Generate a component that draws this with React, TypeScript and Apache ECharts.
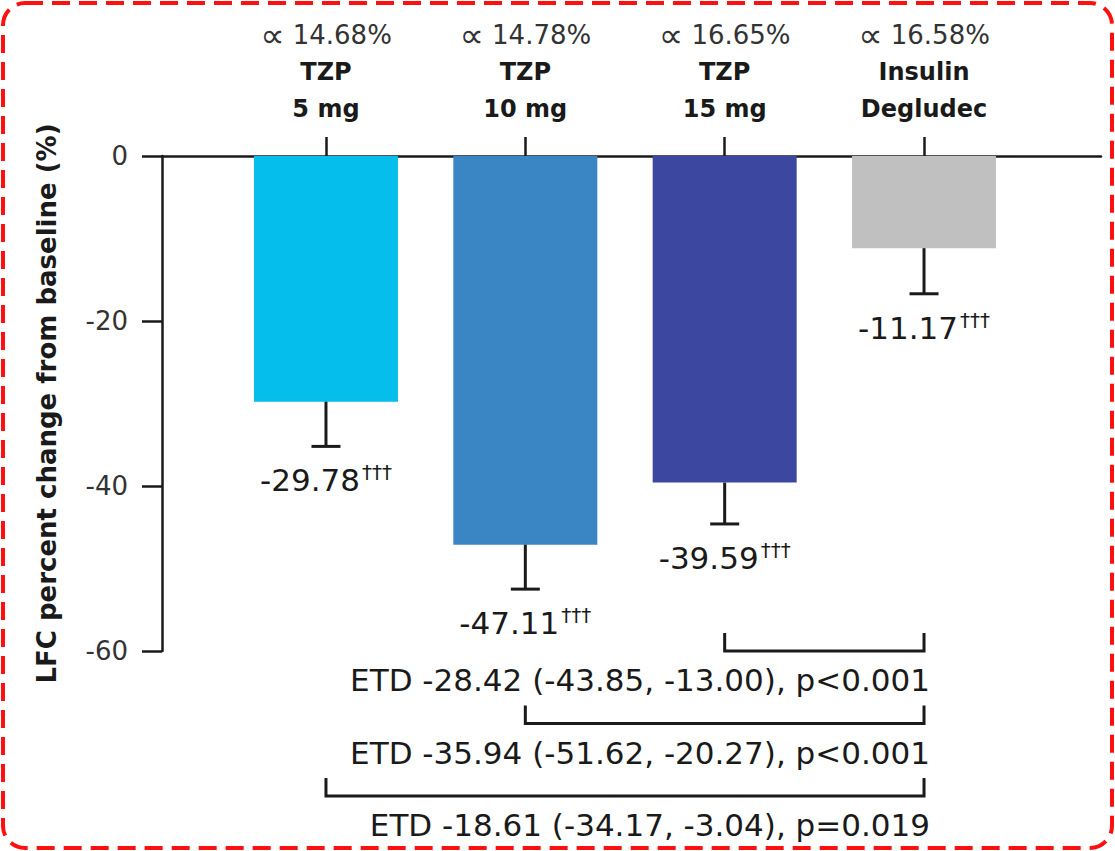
import React, { useEffect, useRef } from "react";
import * as echarts from "echarts";

// ---- data ----
const categories = ["TZP 5 mg", "TZP 10 mg", "TZP 15 mg", "Insulin Degludec"];
const catLine1 = ["TZP", "TZP", "TZP", "Insulin"];
const catLine2 = ["5 mg", "10 mg", "15 mg", "Degludec"];
const baselineLFC = ["14.68%", "14.78%", "16.65%", "16.58%"];
const lfcChange = [-29.78, -47.11, -39.59, -11.17];
const errorLow = [-35.2, -52.5, -44.6, -16.7];
const significance = ["†††", "†††", "†††", "†††"];
const barColors = ["#05BEEC", "#3A86C4", "#3C47A0", "#C0C0C0"];
const etdFrom = [2, 1, 0];
const etdTo = [3, 3, 3];
const etdLabels = [
  "ETD -28.42 (-43.85, -13.00), p<0.001",
  "ETD -35.94 (-51.62, -20.27), p<0.001",
  "ETD -18.61 (-34.17, -3.04), p=0.019",
];
const yTicks = { min: -60, max: 0, interval: 20 };
const yAxisName = "LFC percent change from baseline (%)";

const FONT = "DejaVu Sans";
const INK = "#1a1a1a";

export default function App() {
  const ref = useRef<HTMLDivElement>(null);
  useEffect(() => {
    if (!ref.current) return;
    const chart = echarts.init(ref.current, undefined, { renderer: "svg" });
    const gridTop = 156;
    const gridHeight = 495;
    const option: any = {
      animation: false,
      backgroundColor: "#ffffff",
      textStyle: { fontFamily: FONT, color: INK },
      graphic: [
        {
          type: "rect",
          shape: { x: 3, y: 3, width: 1109, height: 845, r: 22 },
          style: { fill: "none", stroke: "#FF1010", lineWidth: 4, lineDash: [18, 9] },
          silent: true,
          z: 100,
        },
      ],
      grid: [
        { left: 226.3, right: 91.3, top: gridTop, height: gridHeight },
        { left: 162, right: 14, top: gridTop, height: gridHeight },
      ],
      xAxis: [
        {
          type: "category",
          gridIndex: 0,
          position: "top",
          data: categories,
          axisLine: { show: false },
          axisTick: {
            show: true,
            alignWithLabel: true,
            length: 19,
            lineStyle: { color: INK, width: 2.5 },
          },
          axisLabel: {
            show: true,
            margin: 29,
            interval: 0,
            formatter: (_v: string, i: number) =>
              `{q|∝}{p| ${baselineLFC[i]}}\n{b|${catLine1[i]}}\n{b|${catLine2[i]}}`,
            rich: {
              q: { fontFamily: FONT, fontSize: 34, color: "#333", lineHeight: 37 },
              p: { fontFamily: FONT, fontSize: 26, color: "#333", lineHeight: 37 },
              b: { fontFamily: FONT, fontSize: 24, fontWeight: "bold", color: INK, lineHeight: 37 },
            },
          },
          splitLine: { show: false },
        },
        {
          type: "value",
          gridIndex: 1,
          position: "top",
          min: 0,
          max: 1,
          axisLine: { show: true, onZero: false, lineStyle: { color: INK, width: 2.5 } },
          axisTick: { show: false },
          axisLabel: { show: false },
          splitLine: { show: false },
        },
      ],
      yAxis: [
        {
          type: "value",
          gridIndex: 0,
          min: yTicks.min,
          max: yTicks.max,
          interval: yTicks.interval,
          show: false,
          splitLine: { show: false },
        },
        {
          type: "value",
          gridIndex: 1,
          min: yTicks.min,
          max: yTicks.max,
          interval: yTicks.interval,
          axisLine: { show: true, lineStyle: { color: INK, width: 2.5 } },
          axisTick: { show: true, length: 20, lineStyle: { color: INK, width: 2.5 } },
          axisLabel: { fontFamily: FONT, fontSize: 26, color: "#333", margin: 34 },
          splitLine: { show: false },
          name: yAxisName,
          nameLocation: "middle",
          nameGap: 102,
          nameTextStyle: { fontFamily: FONT, fontSize: 26, fontWeight: "bold", color: INK },
        },
      ],
      series: [
        {
          type: "bar",
          xAxisIndex: 0,
          yAxisIndex: 0,
          barWidth: 144,
          data: lfcChange.map((v, i) => ({ value: v, itemStyle: { color: barColors[i] } })),
          z: 2,
        },
        {
          type: "custom",
          xAxisIndex: 0,
          yAxisIndex: 0,
          z: 3,
          data: lfcChange.map((v, i) => [i, v, errorLow[i]]),
          renderItem: (params: any, api: any) => {
            const i = params.dataIndex;
            const top = api.coord([i, lfcChange[i]]);
            const bot = api.coord([i, errorLow[i]]);
            const x = top[0];
            return {
              type: "group",
              children: [
                {
                  type: "line",
                  shape: { x1: x, y1: top[1], x2: x, y2: bot[1] },
                  style: { stroke: INK, lineWidth: 3 },
                },
                {
                  type: "line",
                  shape: { x1: x - 14.5, y1: bot[1], x2: x + 14.5, y2: bot[1] },
                  style: { stroke: INK, lineWidth: 3 },
                },
                {
                  type: "text",
                  x: x,
                  y: bot[1] + 34,
                  style: {
                    text: `{v|${lfcChange[i].toFixed(2)}}{s|${significance[i]}}`,
                    align: "center",
                    verticalAlign: "middle",
                    rich: {
                      v: { fontFamily: FONT, fontSize: 31, fill: INK, lineHeight: 36 },
                      s: {
                        fontFamily: FONT,
                        fontSize: 20,
                        fill: INK,
                        lineHeight: 36,
                        verticalAlign: "top",
                        padding: [0, 0, 12, 2],
                      },
                    },
                  },
                },
              ],
            };
          },
        },
        {
          type: "custom",
          xAxisIndex: 0,
          yAxisIndex: 0,
          z: 3,
          data: etdFrom.map((f, k) => [f, yTicks.min, etdTo[k]]),
          renderItem: (params: any, api: any) => {
            const k = params.dataIndex;
            const base = api.coord([0, yTicks.min])[1];
            const hy = base + k * 72.5;
            const x1 = api.coord([etdFrom[k], 0])[0];
            const x2 = api.coord([etdTo[k], 0])[0];
            return {
              type: "group",
              children: [
                {
                  type: "polyline",
                  shape: { points: [[x1, hy - 18], [x1, hy], [x2, hy], [x2, hy - 18]] },
                  style: { stroke: INK, lineWidth: 3, fill: "none" },
                },
                {
                  type: "text",
                  x: x2 + 6,
                  y: hy + 29,
                  style: {
                    text: etdLabels[k],
                    fontFamily: FONT,
                    fontSize: 31,
                    fill: INK,
                    align: "right",
                    verticalAlign: "middle",
                  },
                },
              ],
            };
          },
        },
      ],
    };
    chart.setOption(option);
    return () => chart.dispose();
  }, []);
  return (
    <div
      ref={ref}
      style={{ position: "fixed", left: 0, top: 0, width: 1115, height: 851, background: "#fff" }}
    />
  );
}
